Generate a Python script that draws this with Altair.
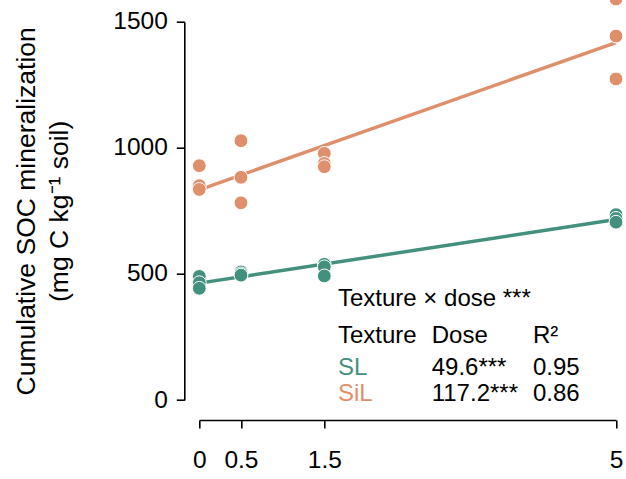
import altair as alt
import pandas as pd

# ---- data ----
dose = [0, 0, 0, 0.5, 0.5, 0.5, 1.5, 1.5, 1.5, 5, 5, 5]
sl_values = [490, 465, 443, 508, 500, 495, 538, 528, 492, 735, 720, 705]
sil_values = [929, 850, 835, 1028, 883, 782, 978, 938, 925, 1590, 1443, 1273]
textures = ["SL", "SiL"]
colors = ["#43907f", "#df8f6c"]
x_ticks = [0, 0.5, 1.5, 5]
y_ticks = [0, 500, 1000, 1500]
header = ["Texture", "Dose", "R²"]
dose_labels = ["49.6***", "117.2***"]
r2_labels = ["0.95", "0.86"]

df = pd.DataFrame({
    "dose": dose * 2,
    "soc": sl_values + sil_values,
    "texture": ["SL"] * len(sl_values) + ["SiL"] * len(sil_values),
})

FONT = "Liberation Sans"
FS = 24
LFS = 24.5
TFS = 26.5

color_scale = alt.Scale(domain=textures, range=colors)
x_enc = alt.X("dose:Q", scale=alt.Scale(domain=[0, 5], nice=False, zero=False),
              axis=alt.Axis(values=x_ticks, title=None, offset=20, labelPadding=20,
                            labelFlush=False, labelExpr="datum.value"))
y_enc = alt.Y("soc:Q", scale=alt.Scale(domain=[0, 1500], nice=False),
              axis=alt.Axis(values=y_ticks, offset=15, labelPadding=9, format="d",
                            title=["Cumulative SOC mineralization", "(mg C kg⁻¹ soil)"],
                            titlePadding=39, titleLineHeight=33, titleFontWeight="normal",
                            titleFontSize=TFS, titleFont=FONT, titleColor="black"))

base = alt.Chart(df)

lines = base.transform_regression(
    "dose", "soc", groupby=["texture"], extent=[0, 5]
).mark_line(strokeWidth=3.5, clip=False).encode(
    x=x_enc, y=y_enc,
    color=alt.Color("texture:N", scale=color_scale, legend=None),
)

points = base.mark_circle(size=190, opacity=1, stroke="white", strokeWidth=1, clip=False).encode(
    x=x_enc, y=y_enc,
    color=alt.Color("texture:N", scale=color_scale, legend=None),
)

one = pd.DataFrame({"k": [0]})


def txt(s, x, y, color="black"):
    return alt.Chart(one).mark_text(
        align="left", baseline="alphabetic", font=FONT, fontSize=FS, color=color
    ).encode(x=alt.value(x), y=alt.value(y), text=alt.value(s))


col_x = [138.7, 232.4, 333.7]
row_y = [284.3, 321, 352.8, 378.8]

texts = [txt("Texture × dose ***", col_x[0], row_y[0])]
for i, h in enumerate(header):
    texts.append(txt(h, col_x[i], row_y[1]))
for j, t in enumerate(textures):
    texts.append(txt(t, col_x[0], row_y[2 + j], colors[j]))
    texts.append(txt(dose_labels[j], col_x[1], row_y[2 + j]))
    texts.append(txt(r2_labels[j], col_x[2], row_y[2 + j]))

chart = alt.layer(lines, points, *texts).properties(
    width=416.7, height=378.3,
    autosize=alt.AutoSizeParams(type="none"),
    padding={"left": 199.3, "top": 21.7, "right": 10, "bottom": 79},
).configure_view(stroke=None).configure_axis(
    grid=False, domainColor="black", domainWidth=1.6, tickColor="black",
    tickWidth=1.6, tickSize=8, labelFont=FONT, labelFontSize=LFS, labelColor="black",
)

chart.save("out.html", embed_options={"renderer": "svg", "actions": False})
